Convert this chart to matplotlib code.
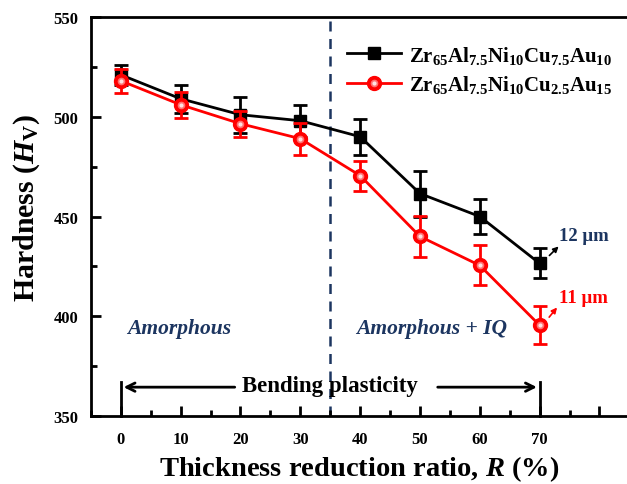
import matplotlib
matplotlib.use("Agg")
import matplotlib.pyplot as plt
from matplotlib.ticker import MultipleLocator, FixedLocator
from matplotlib.legend_handler import HandlerTuple

plt.rcParams['font.family'] = ['Liberation Serif', 'DejaVu Serif']
plt.rcParams['font.weight'] = 'bold'
plt.rcParams['mathtext.fontset'] = 'custom'
plt.rcParams['mathtext.rm'] = 'Liberation Serif:bold'
plt.rcParams['mathtext.bf'] = 'Liberation Serif:bold'
plt.rcParams['mathtext.it'] = 'Liberation Serif:bold:italic'

R = [0, 10, 20, 30, 40, 50, 60, 70]
hv_au10 = [521, 509, 501, 498, 490, 461.5, 450, 426.5]
err_au10 = [5, 7, 9, 8, 9, 11.5, 9, 7.5]
hv_au15 = [518, 506, 496.5, 489, 470.5, 440, 425.5, 395.5]
err_au15 = [6, 6.5, 6.5, 8, 7.5, 10.5, 10, 9.5]
xtick_labels = ['0', '10', '20', '30', '40', '50', '60', '70', '']
label_au10 = r'$\mathrm{Zr_{65}Al_{7.5}Ni_{10}Cu_{7.5}Au_{10}}$'
label_au15 = r'$\mathrm{Zr_{65}Al_{7.5}Ni_{10}Cu_{2.5}Au_{15}}$'

navy = '#1c3560'
red = '#ff0000'

fig = plt.figure(figsize=(6.27, 4.85), dpi=100)
ax = fig.add_axes([0.145, 0.140, 0.855, 0.823])

ax.errorbar(R, hv_au10, yerr=err_au10, color='black', lw=2, marker='s', ms=9,
            capsize=5, capthick=2, elinewidth=2, zorder=3)
ax.errorbar(R, hv_au15, yerr=err_au15, color=red, lw=2, marker='o', ms=10,
            capsize=5, capthick=2, elinewidth=2, zorder=4)
ax.plot(R, hv_au15, ls='none', marker='o', ms=5.5, color='#ff7070',
        mec='none', zorder=5)
ax.plot(R, hv_au15, ls='none', marker='o', ms=3, color='#ffe0e0',
        mec='none', zorder=6)

# legend handles
h1, = ax.plot([], [], color='black', lw=2, marker='s', ms=9)
h2, = ax.plot([], [], color=red, lw=2, marker='o', ms=10)
h3, = ax.plot([], [], ls='none', marker='o', ms=5.5, color='#ff7070', mec='none')
h4, = ax.plot([], [], ls='none', marker='o', ms=3, color='#ffe0e0', mec='none')
leg = ax.legend([h1, (h2, h3, h4)], [label_au10, label_au15],
                handler_map={tuple: HandlerTuple(ndivide=1, pad=0)},
                loc='upper right', bbox_to_anchor=(1.008, 0.98), frameon=False,
                fontsize=15, handlelength=2.6, handletextpad=0.4, labelspacing=0.35)

ax.axvline(35, color=navy, ls=(0, (4, 3)), lw=1.8, zorder=1)

ax.text(9.7, 394, 'Amorphous', color=navy, fontsize=15.5, style='italic',
        fontweight='bold', ha='center', va='center')
ax.text(52, 394, 'Amorphous + IQ', color=navy, fontsize=15.5, style='italic',
        fontweight='bold', ha='center', va='center')

# bending plasticity bracket
ax.plot([0, 0], [350, 367], color='black', lw=2, clip_on=False)
ax.plot([70, 70], [350, 367], color='black', lw=2, clip_on=False)
ax.annotate('', xy=(0, 364.5), xytext=(19.5, 364.5),
            arrowprops=dict(arrowstyle='->', color='black', lw=2, mutation_scale=15))
ax.annotate('', xy=(70, 364.5), xytext=(52.5, 364.5),
            arrowprops=dict(arrowstyle='->', color='black', lw=2, mutation_scale=15))
ax.text(35, 365.5, 'Bending plasticity', fontsize=16.5, fontweight='bold',
        ha='center', va='center')

# thickness annotations
ax.annotate('', xy=(73.5, 436), xytext=(71.3, 429.5),
            arrowprops=dict(arrowstyle='-|>', color='black', lw=1.2, mutation_scale=8))
ax.text(73.3, 440.5, '12 μm', color=navy, fontsize=13.5, fontweight='bold',
        ha='left', va='center')
ax.annotate('', xy=(73.2, 405.5), xytext=(71.3, 398.5),
            arrowprops=dict(arrowstyle='-|>', color=red, lw=1.2, mutation_scale=8))
ax.text(73.3, 409.5, '11 μm', color=red, fontsize=13.5, fontweight='bold',
        ha='left', va='center')

ax.set_xlim(-5, 84.6)
ax.set_ylim(350, 550)
ax.xaxis.set_major_locator(FixedLocator(list(range(0, 81, 10))))
ax.set_xticklabels(xtick_labels)
ax.xaxis.set_minor_locator(MultipleLocator(5))
ax.yaxis.set_major_locator(MultipleLocator(50))
ax.yaxis.set_minor_locator(MultipleLocator(25))

for s in ['left', 'bottom', 'top']:
    ax.spines[s].set_linewidth(2)
ax.spines['right'].set_visible(False)
ax.tick_params(which='both', direction='in', width=2, top=False, right=False,
               labelsize=12)
ax.tick_params(axis='x', which='major', length=7, pad=11)
ax.tick_params(axis='y', which='major', length=7, pad=9)
ax.tick_params(which='minor', length=4)
for lab in ax.get_xticklabels() + ax.get_yticklabels():
    lab.set_fontweight('bold')

ax.set_xlabel(r'Thickness reduction ratio, $\mathit{R}$ (%)', fontsize=20.5,
              fontweight='bold')
ax.set_ylabel(r'Hardness ($\mathit{H}_{\mathrm{V}}$)', fontsize=21.5,
              fontweight='bold')
ax.xaxis.set_label_coords(0.5, -0.093)
ax.yaxis.set_label_coords(-0.091, 0.525)

fig.savefig('out.png', dpi=100)
